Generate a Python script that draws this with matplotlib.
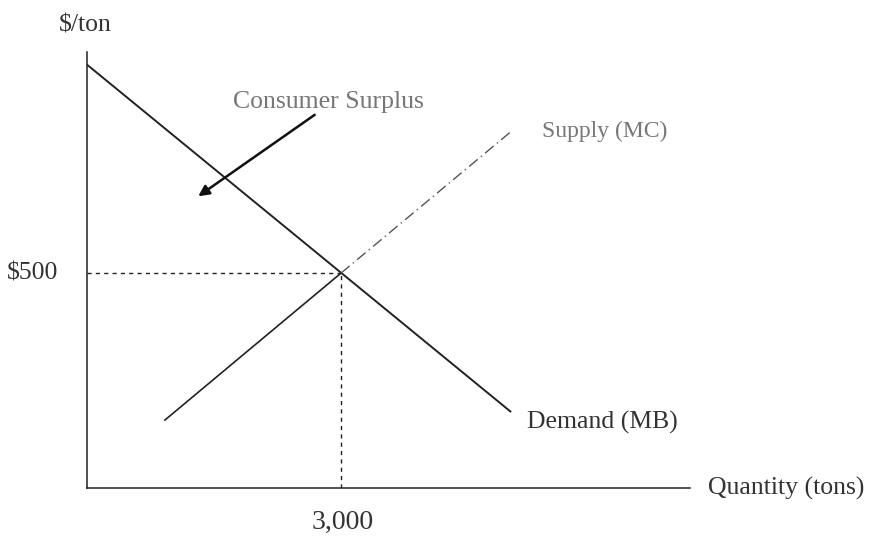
import matplotlib.pyplot as plt

# values
demand_q = [0, 5000]
demand_p = [985, 178]
supply_q = [920, 3000, 5030]
supply_p = [158, 500, 833]
eq_q = 3000
eq_p = 500
x_max = 7120
y_max = 1014

plt.rcParams['font.family'] = ['Liberation Serif', 'DejaVu Serif']
fig = plt.figure(figsize=(8.7, 5.38), dpi=100)
ax = fig.add_axes([0.1, 0.093, 0.693, 0.81])
ax.set_xlim(0, x_max)
ax.set_ylim(0, y_max)
for s in ['top', 'right']:
    ax.spines[s].set_visible(False)
for s in ['left', 'bottom']:
    ax.spines[s].set_color('#222222')
    ax.spines[s].set_linewidth(1.1)
ax.set_xticks([])
ax.set_yticks([])

ax.plot(demand_q, demand_p, color='#222222', lw=1.4)
ax.plot(supply_q[:2], supply_p[:2], color='#222222', lw=1.2)
ax.plot(supply_q[1:], supply_p[1:], color='#555555', lw=1.0, linestyle=(0, (8, 3, 1, 3)))

ax.plot([0, eq_q], [eq_p, eq_p], color='#222222', lw=1.0, linestyle=(0, (3, 3)))
ax.plot([eq_q, eq_q], [0, eq_p], color='#222222', lw=1.0, linestyle=(0, (3, 3)))

ax.annotate('', xy=(1287, 675), xytext=(2716, 872),
            arrowprops=dict(arrowstyle='-|>', color='#111111', lw=1.8,
                            mutation_scale=16))

txt = dict(fontsize=18.5, clip_on=False)
ax.text(-342, eq_p, '\\$500', ha='right', va='center', color='#333333', **txt)
ax.text(eq_q + 20, -81, '3,000', ha='center', va='center', color='#333333',
        fontsize=20, clip_on=False)
ax.text(-24, 1077, '\\$/ton', ha='center', va='center', color='#333333', **txt)
ax.text(1724, 899, 'Consumer Surplus', ha='left', va='center', color='#777777', **txt)
ax.text(5374, 829, 'Supply (MC)', ha='left', va='center', color='#777777',
        fontsize=17, clip_on=False)
ax.text(5197, 153, 'Demand (MB)', ha='left', va='center', color='#333333', **txt)
ax.text(7334, 0, 'Quantity (tons)', ha='left', va='center', color='#333333', **txt)

fig.savefig('out.png', dpi=100)
